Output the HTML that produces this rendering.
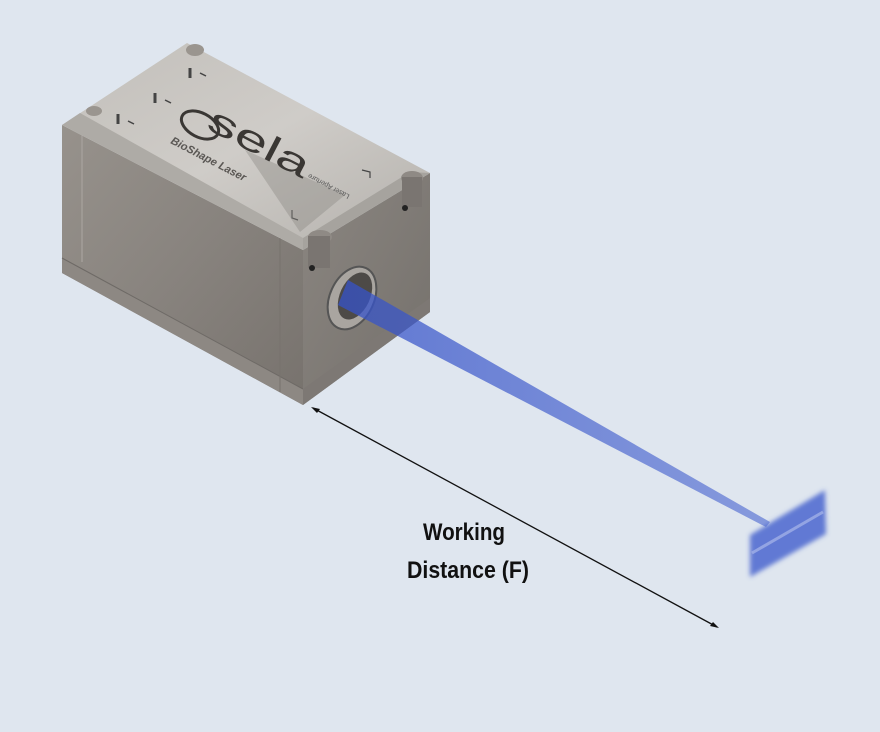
<!DOCTYPE html>
<html><head><meta charset="utf-8"><style>
html,body{margin:0;padding:0;background:#dfe6ef;}
svg{display:block}
</style></head><body>
<svg width="880" height="732" viewBox="0 0 880 732" xmlns="http://www.w3.org/2000/svg">
<defs>
<linearGradient id="side" x1="0" y1="0" x2="1" y2="1">
<stop offset="0" stop-color="#97928c"/><stop offset="0.5" stop-color="#88837e"/><stop offset="1" stop-color="#77726d"/>
</linearGradient>
<linearGradient id="endf" x1="0" y1="0" x2="1" y2="1">
<stop offset="0" stop-color="#8b8681"/><stop offset="1" stop-color="#74706b"/>
</linearGradient>
<linearGradient id="top" x1="0" y1="0" x2="1" y2="1">
<stop offset="0" stop-color="#c2bfba"/><stop offset="0.5" stop-color="#cfccc8"/><stop offset="1" stop-color="#b3b0ab"/>
</linearGradient>
<linearGradient id="beam" x1="0" y1="0" x2="1" y2="0">
<stop offset="0" stop-color="#3552c8" stop-opacity="0.75"/><stop offset="1" stop-color="#4a66d0" stop-opacity="0.6"/>
</linearGradient>
<filter id="blur"><feGaussianBlur stdDeviation="2.5"/></filter>
</defs>
<rect width="880" height="732" fill="#dfe6ef"/>
<polygon points="62,125 303,250 303,405 62,273" fill="url(#side)"/>
<polygon points="62,258 303,389 303,405 62,273" fill="#8d8883"/>
<line x1="62" y1="258" x2="303" y2="389" stroke="#6e6a66" stroke-width="1"/>
<line x1="82" y1="135" x2="82" y2="262" stroke="#a8a39e" stroke-width="1.2"/>
<line x1="280" y1="238" x2="280" y2="392" stroke="#77726d" stroke-width="1"/>
<polygon points="303,250 430,173 430,312 303,405" fill="url(#endf)"/>
<polygon points="303,389 430,298 430,312 303,405" fill="#7d7874"/>
<polygon points="62,125 187,43 430,173 303,250" fill="url(#top)"/>
<polygon points="62,125 80,113 303,238 303,250" fill="#aeaba6"/>
<polygon points="303,238 410,172 430,173 303,250" fill="#a6a39e"/>
<ellipse cx="320" cy="237" rx="12" ry="7" fill="#8f8a85"/>
<rect x="308" y="236" width="22" height="32" fill="#7a7571"/>
<circle cx="312" cy="268" r="3" fill="#222"/>
<ellipse cx="412" cy="178" rx="11" ry="7" fill="#8f8a85"/>
<rect x="402" y="177" width="20" height="30" fill="#7a7571"/>
<circle cx="405" cy="208" r="3" fill="#222"/>
<ellipse cx="195" cy="50" rx="9" ry="6" fill="#9a958f"/>
<ellipse cx="94" cy="111" rx="8" ry="5" fill="#9a958f"/>
<g fill="#444" stroke="#444">
<line x1="190" y1="68" x2="190" y2="78" stroke-width="3"/><line x1="200" y1="73" x2="206" y2="76" stroke-width="1.5"/>
<line x1="155" y1="93" x2="155" y2="103" stroke-width="3"/><line x1="165" y1="100" x2="171" y2="103" stroke-width="1.5"/>
<line x1="118" y1="114" x2="118" y2="124" stroke-width="3"/><line x1="128" y1="121" x2="134" y2="124" stroke-width="1.5"/>
<polyline points="292,210 292,218 298,220" fill="none" stroke-width="1.2"/>
<polyline points="362,170 370,172 370,178" fill="none" stroke-width="1.2"/>
</g>
<polygon points="245,150 345,195 300,232" fill="#8a8682" opacity="0.4"/>
<ellipse cx="200" cy="125" rx="20" ry="12" transform="rotate(27.5 200 125)" fill="none" stroke="#3a3734" stroke-width="3"/>
<g transform="translate(205,128) rotate(27.5)">
<text x="0" y="0" font-family="Liberation Sans, sans-serif" font-size="36" fill="#3a3734" textLength="110" lengthAdjust="spacingAndGlyphs">sela</text>
</g>
<g transform="translate(170,143) rotate(27.5)">
<text x="0" y="0" font-family="Liberation Sans, sans-serif" font-size="11" font-weight="bold" font-style="italic" fill="#5a5754">BioShape Laser</text>
</g>
<g transform="translate(350,195) rotate(-152)">
<text x="0" y="0" font-family="Liberation Sans, sans-serif" font-size="7" fill="#555">Laser Aperture</text>
</g>
<ellipse cx="352" cy="298" rx="22" ry="33" transform="rotate(25 352 298)" fill="#a9a5a0" stroke="#555" stroke-width="2"/>
<ellipse cx="355" cy="296" rx="15" ry="25" transform="rotate(25 355 296)" fill="#4d4a47"/>
<polygon points="348,280 338,305 766,527 770,522" fill="url(#beam)"/>
<g filter="url(#blur)">
<polygon points="750,535 825,490 826,534 750,577" fill="#4a66cf" opacity="0.85"/>
</g>
<line x1="752" y1="553" x2="823" y2="512" stroke="#a9b7ea" stroke-width="3" opacity="0.7"/>
<line x1="313" y1="408" x2="717" y2="627" stroke="#111" stroke-width="1.3"/>
<polygon points="311,407 320,409 317,413" fill="#111"/>
<polygon points="719,628 710,626 713,622" fill="#111"/>
<text x="423" y="540" font-family="Liberation Sans Narrow, Liberation Sans, sans-serif" font-size="24" font-weight="bold" fill="#111" textLength="82" lengthAdjust="spacingAndGlyphs">Working</text>
<text x="407" y="578" font-family="Liberation Sans Narrow, Liberation Sans, sans-serif" font-size="24" font-weight="bold" fill="#111" textLength="122" lengthAdjust="spacingAndGlyphs">Distance (F)</text>
</svg>
</body></html>
